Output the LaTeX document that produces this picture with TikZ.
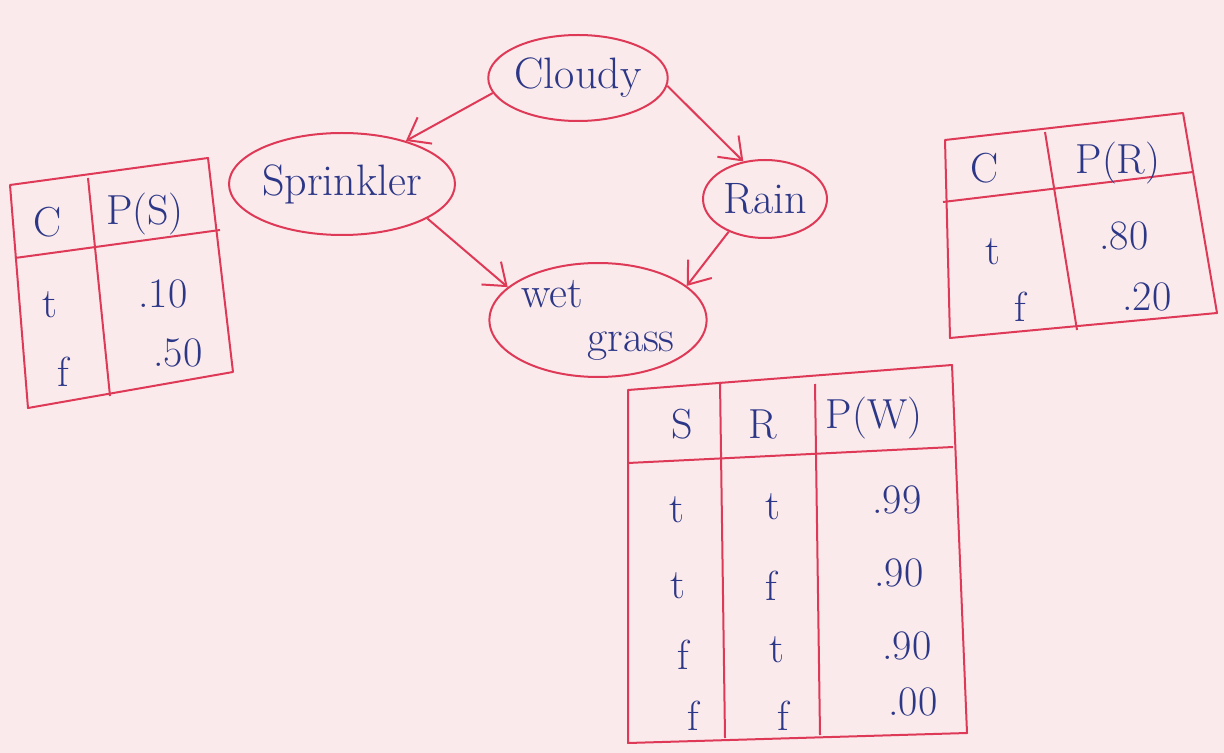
\documentclass[tikz,border=0pt]{standalone}
\usetikzlibrary{shapes.geometric,arrows.meta}
\definecolor{paper}{RGB}{250,234,235}
\definecolor{ink}{RGB}{222,58,88}
\definecolor{pen}{RGB}{45,55,135}
\tikzset{
  var/.style={ellipse,draw=ink,line width=1pt,inner sep=0pt,text=pen,
    font=\fontsize{22}{25}\selectfont},
  edge/.style={draw=ink,line width=1pt,-{Straight Barb[length=10pt,width=15pt]}},
  tbl/.style={draw=ink,line width=1pt,line join=round},
  cell/.style={text=pen,inner sep=1pt,font=\fontsize{21}{24}\selectfont},
}
\begin{document}
\begin{tikzpicture}[x=0.5pt,y=-0.5pt]
\fill[paper] (0,0) rectangle (1224,753);
\useasboundingbox (0,0) rectangle (1224,753);

% network nodes
\node[var,minimum width=88pt,minimum height=43pt] (cloudy) at (578,78) {Cloudy};
\node[var,minimum width=105pt,minimum height=51pt] (sprinkler) at (342,184) {Sprinkler};
\node[var,minimum width=62pt,minimum height=39pt] (rain) at (765,199) {Rain};
\node[var,minimum width=98pt,minimum height=57pt,align=left] (wet) at (598,320)
  {wet\\[-3pt]\hspace*{1.5em}grass};

% dependencies
\draw[edge] (cloudy.190) -- (sprinkler.34);
\draw[edge] (cloudy.-5) -- (rain.120);
\draw[edge] (sprinkler.-22) -- (wet.160);
\draw[edge] (rain.222) -- (wet.21);

% table P(S | C)
\draw[tbl] (10,185) -- (208,158) -- (233,372) -- (28,408) -- cycle;
\draw[tbl] (88,178) -- (110,396);
\draw[tbl] (15,258) -- (220,230);
\node[cell] (sc) at (48,222) {C};
\node[cell] (sp) at (145,214) {P(S)};
\node[cell] (st) at (50,305) {t};
\node[cell] (sv1) at (163,294) {.10};
\node[cell] (sf) at (63,372) {f};
\node[cell] (sv2) at (178,353) {.50};

% table P(R | C)
\draw[tbl] (945,140) -- (1183,113) -- (1217,313) -- (950,338) -- cycle;
\draw[tbl] (1045,132) -- (1077,330);
\draw[tbl] (943,202) -- (1193,172);
\node[cell] (rc) at (985,168) {C};
\node[cell] (rp) at (1118,163) {P(R)};
\node[cell] (rt) at (993,252) {t};
\node[cell] (rv1) at (1124,236) {.80};
\node[cell] (rf) at (1020,307) {f};
\node[cell] (rv2) at (1147,297) {.20};

% table P(W | S, R)
\draw[tbl] (628,390) -- (952,365) -- (967,733) -- (628,743) -- cycle;
\draw[tbl] (720,382) -- (725,738);
\draw[tbl] (815,384) -- (820,735);
\draw[tbl] (628,463) -- (953,447);
\node[cell] (ws) at (682,424) {S};
\node[cell] (wr) at (763,424) {R};
\node[cell] (wp) at (874,418) {P(W)};
\node[cell] (w1s) at (677,510) {t};
\node[cell] (w1r) at (773,507) {t};
\node[cell] (w1p) at (897,500) {.99};
\node[cell] (w2s) at (678,586) {t};
\node[cell] (w2r) at (771,586) {f};
\node[cell] (w2p) at (899,573) {.90};
\node[cell] (w3s) at (683,655) {f};
\node[cell] (w3r) at (777,650) {t};
\node[cell] (w3p) at (907,646) {.90};
\node[cell] (w4s) at (693,716) {f};
\node[cell] (w4r) at (783,716) {f};
\node[cell] (w4p) at (913,702) {.00};
\end{tikzpicture}
\end{document}
